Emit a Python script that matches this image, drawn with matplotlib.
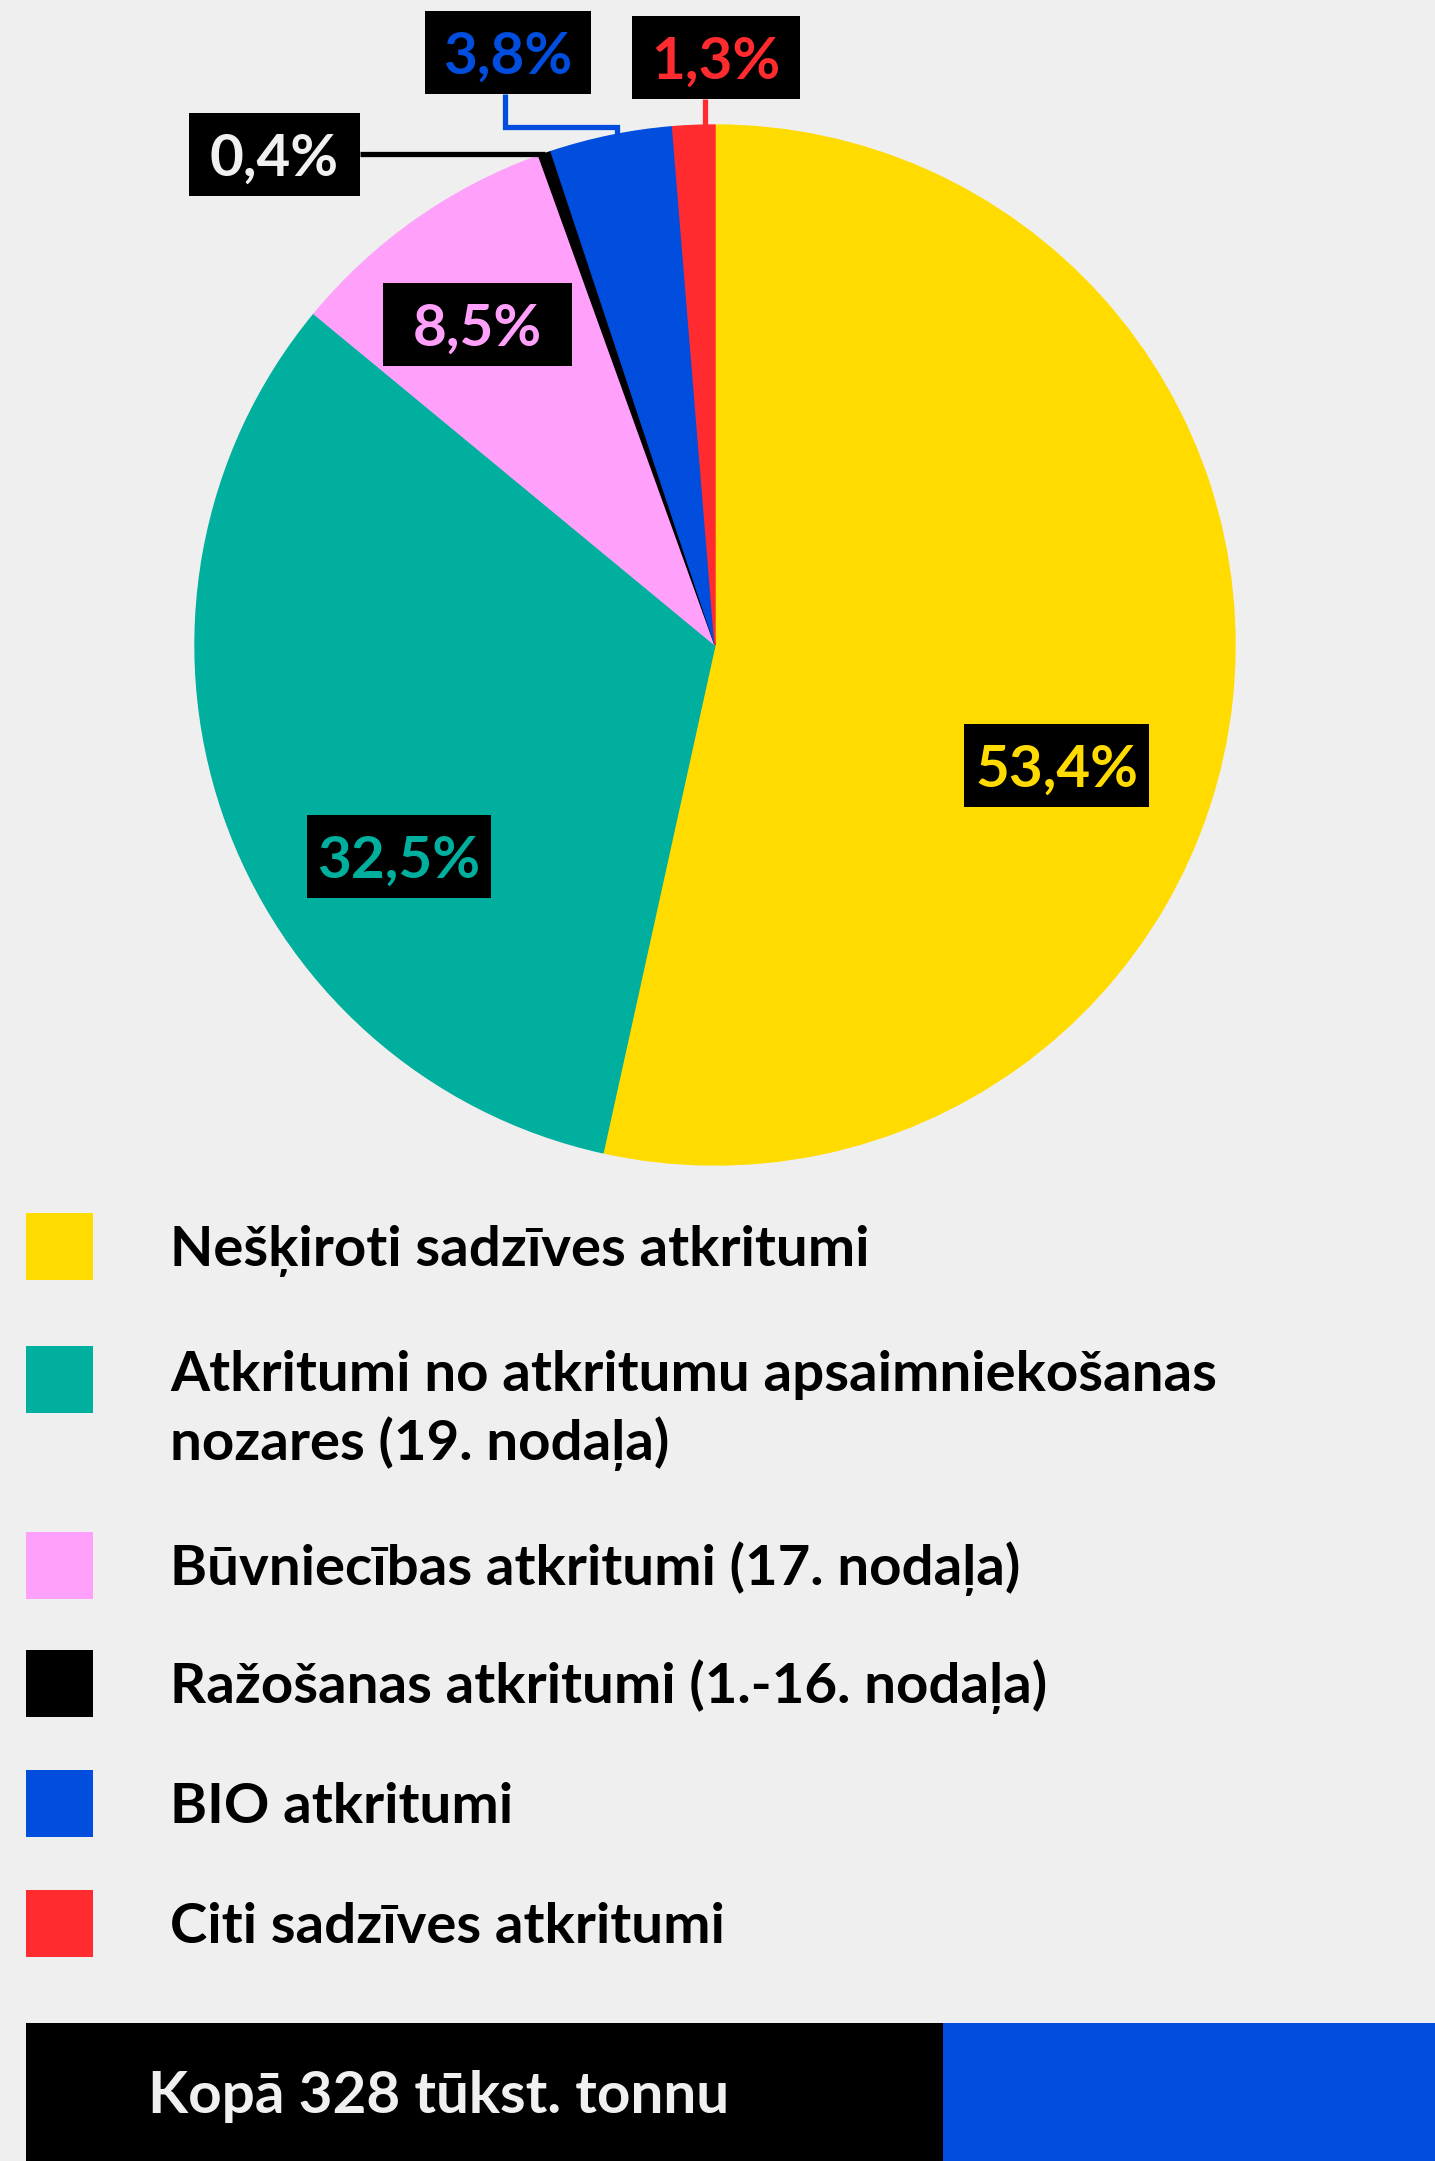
import matplotlib
matplotlib.use('Agg')
import matplotlib.pyplot as plt
from matplotlib.patches import Rectangle
import numpy as np

# ---- data ----
categories = ["Nešķiroti sadzīves atkritumi",
              "Atkritumi no atkritumu apsaimniekošanas\nnozares (19. nodaļa)",
              "Būvniecības atkritumi (17. nodaļa)",
              "Ražošanas atkritumi (1.-16. nodaļa)",
              "BIO atkritumi",
              "Citi sadzīves atkritumi"]
shares = [53.4, 32.5, 8.5, 0.4, 3.8, 1.3]
total_label = "Kopā 328 tūkst. tonnu"

# ---- style ----
colors = ['#FFDB00', '#00AF9D', '#FFA1FB', '#000000', '#004DDE', '#FF2B2F']
label_colors = ['#FFDB00', '#00AF9D', '#FFA1FB', '#F0F0F0', '#004DDE', '#FF2B2F']
BG = '#EFEFEF'
W, H = 1435, 2161
FONT = ['Lato', 'DejaVu Sans']
FS = 42
FS_LEG = 40.6


def cap(fs):
    return 0.7165 * fs * 100 / 72  # cap height in px


fig = plt.figure(figsize=(W / 100, H / 100), dpi=100, facecolor=BG)
ax = fig.add_axes([0, 0, 1, 1])
ax.set_facecolor(BG)


def Y(py):
    return H - py


cx, cy, R = 715, Y(645), 520
wedges, _ = ax.pie(shares, colors=colors, startangle=90, counterclock=False,
                   center=(cx, cy), radius=R, wedgeprops=dict(linewidth=1))
for w, c in zip(wedges, colors):
    w.set_edgecolor(c)
ax.set_xlim(0, W)
ax.set_ylim(0, H)
ax.set_aspect('equal')
ax.axis('off')


def edge(i, r=R):
    w = wedges[i]
    a = np.deg2rad((w.theta1 + w.theta2) / 2)
    return cx + r * np.cos(a), cy + r * np.sin(a)


def fmt(v):
    return f"{v:.1f}".replace('.', ',') + '%'


# label boxes: (left, top, width, height) in pixel coords from top
boxes = [(964, 724, 185, 83), (307, 815, 184, 83), (383, 283, 189, 83),
         (189, 113, 171, 83), (425, 11, 166, 83), (632, 16, 168, 83)]

for i, (v, (bx, by, bw, bh)) in enumerate(zip(shares, boxes)):
    ax.add_patch(Rectangle((bx, Y(by + bh)), bw, bh, facecolor='black',
                           edgecolor='none', zorder=5))
    ax.text(bx + bw / 2, Y(by + bh / 2 + cap(FS) / 2), fmt(v), ha='center',
            va='baseline', fontsize=FS, fontweight='bold', family=FONT,
            color=label_colors[i], zorder=6)

LW = 3.8
# connector for 0,4% (black)
ex, ey = edge(3)
bx, by, bw, bh = boxes[3]
ax.plot([bx + bw, ex], [ey, ey], color='black', lw=LW, zorder=4,
        solid_capstyle='butt')
# connector for 3,8% (blue) - elbow
ex, ey = edge(4)
bx, by, bw, bh = boxes[4]
mx = bx + bw / 2 - 3
ey_elbow = ey + 8
ax.plot([mx, mx, ex + 6, ex + 6], [Y(by + bh), ey_elbow, ey_elbow, ey - 4],
        color=colors[4], lw=LW, zorder=4, solid_joinstyle='miter',
        solid_capstyle='butt')
# connector for 1,3% (red)
ex, ey = edge(5)
bx, by, bw, bh = boxes[5]
lx = (ex + bx + bw / 2) / 2
ax.plot([lx, lx], [Y(by + bh), ey - 2], color=colors[5], lw=LW, zorder=4,
        solid_capstyle='butt')

# ---- legend ----
sq_centers = [1246, 1379, 1565, 1683, 1803, 1923]
SQ = 67
for i, (cat, yc) in enumerate(zip(categories, sq_centers)):
    ax.add_patch(Rectangle((26, Y(yc + SQ / 2)), SQ, SQ, facecolor=colors[i],
                           edgecolor='none'))
    lines = cat.split('\n')
    first = yc if len(lines) == 1 else yc - 8
    for k, ln in enumerate(lines):
        ax.text(170, Y(first + k * 69 + cap(FS_LEG) / 2), ln, ha='left',
                va='baseline', fontsize=FS_LEG, fontweight='bold', family=FONT,
                color='black')

# ---- bottom bar ----
ax.add_patch(Rectangle((26, 0), 917, H - 2023, facecolor='black', edgecolor='none'))
ax.add_patch(Rectangle((943, 0), W - 943, H - 2023, facecolor=colors[4], edgecolor='none'))
ax.text(148, Y(2092 + cap(FS) / 2), total_label, ha='left', va='baseline',
        fontsize=FS, fontweight='bold', family=FONT, color='#F0F0F0')

fig.savefig('out.png', dpi=100, facecolor=BG)
